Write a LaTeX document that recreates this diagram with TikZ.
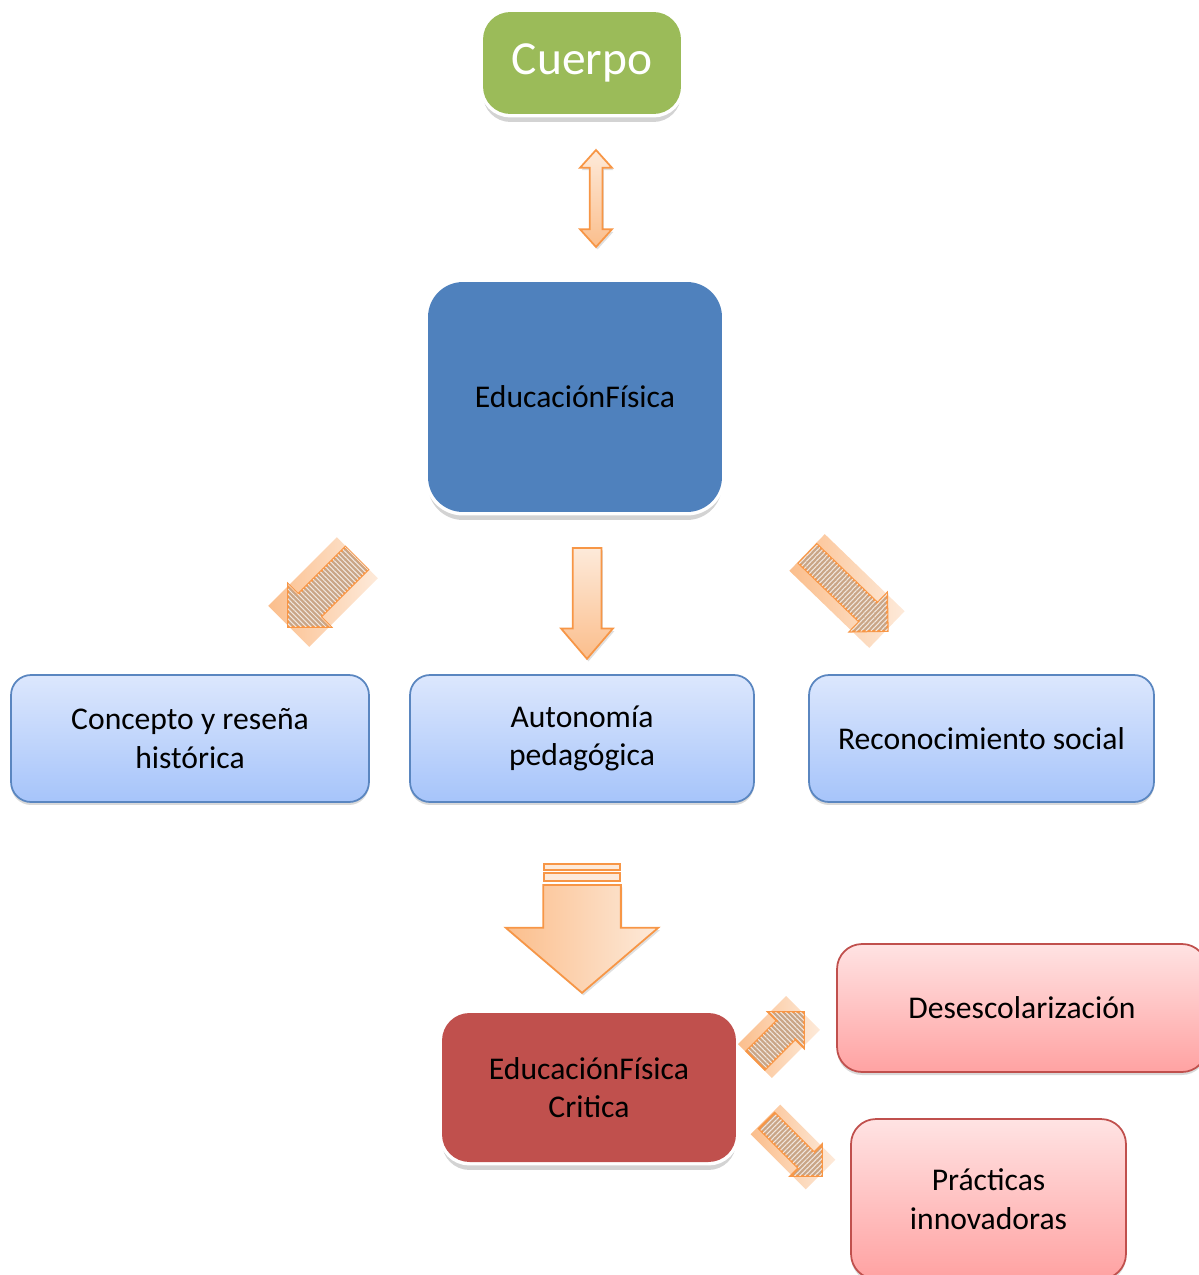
\documentclass[tikz,border=0pt]{standalone}
\usepackage{fontspec}
\setmainfont{Carlito}
\usetikzlibrary{shapes.arrows, shadows, patterns.meta, positioning}

\definecolor{cuerpogreen}{HTML}{9BBB59}
\definecolor{edublue}{HTML}{4F81BD}
\definecolor{critred}{HTML}{C0504D}
\definecolor{boxtop}{HTML}{DCE7FD}
\definecolor{boxbot}{HTML}{A6C4FA}
\definecolor{boxline}{HTML}{5A86C0}
\definecolor{pinktop}{HTML}{FFE3E3}
\definecolor{pinkbot}{HTML}{FFA2A2}
\definecolor{arrline}{HTML}{F79646}
\definecolor{arrlight}{HTML}{FDEADA}
\definecolor{arrdark}{HTML}{FBBE8C}
\definecolor{hatchfill}{HTML}{C9A586}

\begin{document}
\begin{tikzpicture}[x=0.02cm, y=-0.02cm, font=\fontsize{18}{22}\selectfont]
  \tikzstyle{solidbox}=[rectangle, rounded corners=0.55cm, align=center, text=black,
                        drop shadow={opacity=.35, shadow xshift=0pt, shadow yshift=-0.16cm},
                        preaction={draw=white, line width=0.14cm}]
  \tikzstyle{lightbox}=[rectangle, rounded corners=0.4cm, draw=boxline, line width=1pt,
                        top color=boxtop, bottom color=boxbot, align=center,
                        drop shadow={opacity=.3, shadow xshift=0pt, shadow yshift=-0.06cm}]
  \tikzstyle{pinkbox}=[lightbox, draw=critred, top color=pinktop, bottom color=pinkbot,
                       rounded corners=0.5cm]
  \tikzstyle{blockarr}=[single arrow, draw=arrline, line width=1pt, inner xsep=0pt, anchor=tail,
                        single arrow head indent=0pt, top color=arrlight, bottom color=arrdark,
                        drop shadow={opacity=.25, shadow xshift=0.03cm, shadow yshift=-0.05cm}]
  \tikzstyle{hatcharr}=[single arrow, draw=arrline, line width=1.2pt, inner xsep=0pt, anchor=tail,
                        single arrow head indent=0pt, single arrow tip angle=90, fill=hatchfill]
  \tikzstyle{glow}=[rectangle, inner sep=0pt, left color=arrdark, right color=arrlight]

  \useasboundingbox (0,0) rectangle (1199,1275);

  % boxes
  \node[solidbox, fill=cuerpogreen, text=white, font=\fontsize{27}{32}\selectfont,
        minimum width=3.96cm, minimum height=2.04cm] (cuerpo) at (582,63)  {Cuerpo};
  \node[solidbox, fill=edublue, rounded corners=0.7cm,
        minimum width=5.88cm, minimum height=4.6cm]  (edu)    at (575,397) {EducaciónFísica};
  \node[lightbox, minimum width=7.16cm, minimum height=2.54cm] (concepto) at (190,738.5)
        {Concepto y reseña\\histórica};
  \node[lightbox, minimum width=6.88cm, minimum height=2.54cm] (autonomia) at (582,738.5)
        {Autonomía\\pedagógica};
  \node[lightbox, minimum width=6.9cm, minimum height=2.54cm]  (recon) at (981.5,738.5)
        {Reconocimiento social};
  \node[solidbox, fill=critred, minimum width=5.88cm, minimum height=2.98cm] (critica)
        at (589,1087.5) {EducaciónFísica\\Critica};
  \node[pinkbox, minimum width=7.4cm, minimum height=2.56cm]  (desesc) at (1022,1008)
        {Desescolarización};
  \node[pinkbox, minimum width=5.5cm, minimum height=3.2cm]   (practicas) at (988.5,1199)
        {Prácticas\\innovadoras};

  % block arrows
  \node[double arrow, draw=arrline, line width=1pt, inner xsep=0pt, double arrow head indent=0pt,
        top color=arrlight, bottom color=arrdark, rotate=90, minimum height=1.94cm,
        inner ysep=0.11cm, double arrow head extend=0.19cm, double arrow tip angle=84,
        drop shadow={opacity=.25, shadow xshift=0.03cm, shadow yshift=-0.05cm}]
        (dbl) at (596,198.5) {};
  \node[blockarr, rotate=-90, minimum height=2.22cm, inner ysep=0.27cm,
        single arrow head extend=0.23cm, single arrow tip angle=81] (down) at (587,547) {};

  \draw[arrline, line width=1pt, fill=arrlight] (544,864) rectangle (620,870);
  \draw[arrline, line width=1pt, fill=arrlight] (544,873) rectangle (620,881);
  \node[blockarr, rotate=-90, minimum height=2.16cm, inner ysep=0.76cm,
        left color=arrdark, right color=arrlight,
        single arrow head extend=0.75cm, single arrow tip angle=99] (big) at (582,884) {};

  % hatched arrows
  \node[glow, rotate=225, minimum width=1.94cm, minimum height=1.16cm] (glowL) at (323,592) {};
  \node[hatcharr, rotate=225, minimum height=1.94cm, inner ysep=0.30cm,
        single arrow head extend=0.28cm,
        postaction={pattern={Lines[angle=-45, distance=2pt, line width=.6pt]},
                    pattern color=white!75!hatchfill}] (toconcepto) at (357.5,557.5) {};

  \node[glow, rotate=-44, minimum width=2.22cm, minimum height=1.02cm] (glowR) at (847,591) {};
  \node[hatcharr, rotate=-44, minimum height=2.22cm, inner ysep=0.24cm,
        single arrow head extend=0.27cm,
        postaction={pattern={Lines[angle=46, distance=2pt, line width=.6pt]},
                    pattern color=white!75!hatchfill}] (torecon) at (807,553) {};

  \node[glow, rotate=45, minimum width=1.36cm, minimum height=0.96cm] (glowU) at (779,1037) {};
  \node[hatcharr, rotate=45, minimum height=1.36cm, inner ysep=0.24cm,
        single arrow head extend=0.24cm,
        postaction={pattern={Lines[angle=135, distance=2pt, line width=.6pt]},
                    pattern color=white!75!hatchfill}] (todesesc) at (755,1061) {};

  \node[glow, rotate=-45, minimum width=1.56cm, minimum height=0.84cm] (glowD) at (793,1147) {};
  \node[hatcharr, rotate=-45, minimum height=1.56cm, inner ysep=0.20cm,
        single arrow head extend=0.22cm,
        postaction={pattern={Lines[angle=45, distance=2pt, line width=.6pt]},
                    pattern color=white!75!hatchfill}] (topracticas) at (766,1120) {};
\end{tikzpicture}
\end{document}
